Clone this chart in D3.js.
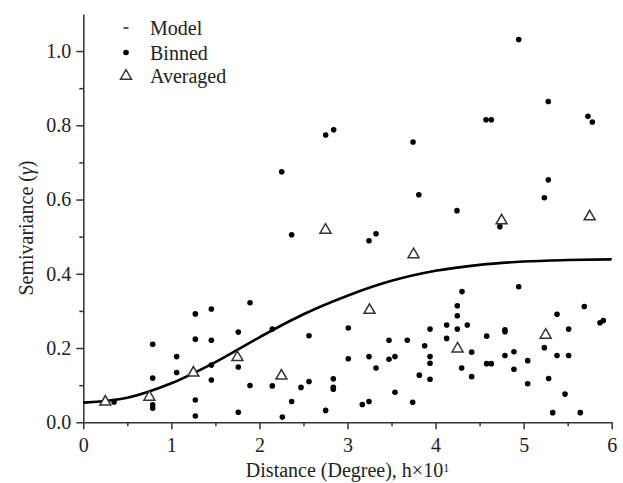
<!DOCTYPE html>
<html>
<head>
<meta charset="utf-8">
<script src="https://cdn.jsdelivr.net/npm/d3@7"></script>
<style>
  body { margin: 0; background: #fff; }
  text { font-family: "Liberation Serif", "DejaVu Serif", serif; }
</style>
</head>
<body>
<script>
// chart size and plot margins
var width = 623;
var height = 483;
var margin = {top: 13.9, right: 11.3, bottom: 60.7, left: 83.3};

// binned semivariance points (distance, gamma)
var binnedX = [0.349, 0.788, 0.788, 0.788, 0.788, 1.06, 1.06, 1.272, 1.272, 1.272,
  1.272, 1.454, 1.454, 1.454, 1.454, 1.76, 1.76, 1.76, 1.893, 1.893,
  2.146, 2.146, 2.253, 2.26, 2.366, 2.366, 2.472, 2.563, 2.563, 2.752,
  2.843, 2.752, 2.839, 2.839, 2.839, 3.009, 3.009, 3.168, 3.244, 3.324,
  3.244, 3.244, 3.324, 3.471, 3.471, 3.539, 3.539, 3.679, 3.744, 3.74,
  3.81, 3.815, 3.876, 3.937, 3.937, 3.937, 3.937, 4.126, 4.126, 4.243,
  4.247, 4.247, 4.247, 4.30, 4.296, 4.36, 4.41, 4.41, 4.573, 4.633,
  4.58, 4.58, 4.633, 4.73, 4.788, 4.788, 4.788, 4.89, 4.89, 4.944,
  4.944, 5.046, 5.046, 5.235, 5.28, 5.28, 5.235, 5.284, 5.33, 5.379,
  5.379, 5.47, 5.511, 5.511, 5.643, 5.689, 5.73, 5.78, 5.867, 5.905];
var binnedY = [0.055, 0.210, 0.119, 0.047, 0.038, 0.177, 0.134, 0.292, 0.224, 0.060,
  0.017, 0.305, 0.221, 0.154, 0.114, 0.243, 0.149, 0.027, 0.322, 0.099,
  0.251, 0.098, 0.675, 0.014, 0.505, 0.056, 0.094, 0.233, 0.110, 0.774,
  0.788, 0.032, 0.117, 0.094, 0.089, 0.254, 0.171, 0.048, 0.489, 0.508,
  0.177, 0.056, 0.146, 0.221, 0.170, 0.177, 0.081, 0.221, 0.755, 0.054,
  0.613, 0.127, 0.206, 0.251, 0.177, 0.159, 0.116, 0.262, 0.226, 0.570,
  0.314, 0.287, 0.251, 0.352, 0.146, 0.262, 0.189, 0.123, 0.815, 0.815,
  0.232, 0.158, 0.158, 0.527, 0.249, 0.244, 0.180, 0.190, 0.143, 1.031,
  0.365, 0.166, 0.104, 0.605, 0.653, 0.864, 0.201, 0.118, 0.026, 0.291,
  0.180, 0.076, 0.251, 0.180, 0.026, 0.312, 0.824, 0.809, 0.268, 0.274];

// averaged semivariance per lag class
var avgX = [0.25, 0.75, 1.25, 1.75, 2.25, 2.75, 3.25, 3.75, 4.25, 4.75, 5.25, 5.75];
var avgY = [0.055, 0.068, 0.133, 0.175, 0.125, 0.518, 0.302, 0.452, 0.198, 0.543, 0.235, 0.554];

// fitted model curve
var modelX = [0, 0.5, 1.0, 1.5, 2.0, 2.5, 3.0, 3.5, 4.0, 4.5, 5.0, 5.5, 6.0];
var modelY = [0.053, 0.066, 0.105, 0.162, 0.229, 0.291, 0.341, 0.381, 0.408, 0.424, 0.433, 0.437, 0.439];

// axis ticks and legend labels
var xTicks = [0, 1, 2, 3, 4, 5, 6];
var xMinor = [0.5, 1.5, 2.5, 3.5, 4.5, 5.5];
var yTicks = [0, 0.2, 0.4, 0.6, 0.8, 1.0];
var yMinor = [0.1, 0.3, 0.5, 0.7, 0.9];
var legendLabels = ["Model", "Binned", "Averaged"];

var binned = binnedX.map(function(d, i) { return {x: d, y: binnedY[i]}; });
var averaged = avgX.map(function(d, i) { return {x: d, y: avgY[i]}; });
var model = modelX.map(function(d, i) { return {x: d, y: modelY[i]}; });

var svg = d3.select("body")
    .append("svg")
    .attr("width", width)
    .attr("height", height);

var xScale = d3.scaleLinear()
    .domain([0, 6])
    .range([margin.left, width - margin.right]);

var yScale = d3.scaleLinear()
    .domain([0, 1.1])
    .range([height - margin.bottom, margin.top]);

var axisColor = "#333";

// bottom axis, major and minor ticks
var xAxis = d3.axisBottom(xScale)
    .tickValues(xTicks)
    .tickFormat(d3.format("d"))
    .tickSizeInner(7)
    .tickSizeOuter(0)
    .tickPadding(9);

var xAxisMinor = d3.axisBottom(xScale)
    .tickValues(xMinor)
    .tickFormat("")
    .tickSizeInner(4)
    .tickSizeOuter(0);

var gx = svg.append("g")
    .attr("transform", "translate(0," + yScale(0) + ")")
    .call(xAxis);
svg.append("g")
    .attr("transform", "translate(0," + yScale(0) + ")")
    .call(xAxisMinor)
    .select(".domain").remove();

// left axis, major and minor ticks
var yAxis = d3.axisLeft(yScale)
    .tickValues(yTicks)
    .tickFormat(d3.format(".1f"))
    .tickSizeInner(7)
    .tickSizeOuter(0)
    .tickPadding(5);

var yAxisMinor = d3.axisLeft(yScale)
    .tickValues(yMinor)
    .tickFormat("")
    .tickSizeInner(4)
    .tickSizeOuter(0);

var gy = svg.append("g")
    .attr("transform", "translate(" + xScale(0) + ",0)")
    .call(yAxis);
svg.append("g")
    .attr("transform", "translate(" + xScale(0) + ",0)")
    .call(yAxisMinor)
    .select(".domain").remove();

svg.selectAll(".domain, .tick line")
    .attr("stroke", axisColor)
    .attr("stroke-width", 1.5);

svg.selectAll(".tick text")
    .attr("font-family", "Liberation Serif")
    .attr("font-size", "20px")
    .attr("fill", "#222");

// axis titles
var xTitle = svg.append("text")
    .attr("x", (xScale(0) + xScale(6)) / 2)
    .attr("y", 477)
    .attr("text-anchor", "middle")
    .attr("font-size", "20px")
    .attr("fill", "#222")
    .text("Distance (Degree), h×10");
xTitle.append("tspan")
    .attr("dy", "-0.45em")
    .attr("font-size", "12px")
    .text("1");

var yTitle = svg.append("text")
    .attr("transform", "translate(33," + 228 + ") rotate(-90)")
    .attr("text-anchor", "middle")
    .attr("font-size", "20px")
    .attr("fill", "#222")
    .text("Semivariance (");
yTitle.append("tspan").attr("font-style", "italic").text("γ");
yTitle.append("tspan").text(")");

// model curve
var line = d3.line()
    .x(function(d) { return xScale(d.x); })
    .y(function(d) { return yScale(d.y); })
    .curve(d3.curveMonotoneX);

svg.append("path")
    .datum(model)
    .attr("d", line)
    .attr("fill", "none")
    .attr("stroke", "#000")
    .attr("stroke-width", 2.6);

// binned points
svg.append("g")
    .selectAll("circle")
    .data(binned)
    .enter()
    .append("circle")
    .attr("cx", function(d) { return xScale(d.x); })
    .attr("cy", function(d) { return yScale(d.y); })
    .attr("r", 2.8)
    .attr("fill", "#000");

// averaged triangles
var triangle = d3.symbol().type(d3.symbolTriangle).size(52);

svg.append("g")
    .selectAll("path")
    .data(averaged)
    .enter()
    .append("path")
    .attr("d", triangle)
    .attr("transform", function(d) { return "translate(" + xScale(d.x) + "," + yScale(d.y) + ")"; })
    .attr("fill", "#fff")
    .attr("stroke", "#333")
    .attr("stroke-width", 1.5);

// legend
var legend = svg.append("g").attr("transform", "translate(126,0)");
var legendY = [28, 52.5, 76];

legend.append("line")
    .attr("x1", -2.5).attr("x2", 2.5)
    .attr("y1", legendY[0]).attr("y2", legendY[0])
    .attr("stroke", "#000")
    .attr("stroke-width", 1.3);

legend.append("circle")
    .attr("cx", 0).attr("cy", legendY[1])
    .attr("r", 2.8)
    .attr("fill", "#000");

legend.append("path")
    .attr("d", triangle)
    .attr("transform", "translate(0," + legendY[2] + ")")
    .attr("fill", "#fff")
    .attr("stroke", "#333")
    .attr("stroke-width", 1.5);

legend.selectAll(".label")
    .data(legendLabels)
    .enter()
    .append("text")
    .attr("class", "label")
    .attr("x", 24)
    .attr("y", function(d, i) { return legendY[i] + 7; })
    .attr("font-size", "20px")
    .attr("fill", "#222")
    .text(function(d) { return d; });
</script>
</body>
</html>
